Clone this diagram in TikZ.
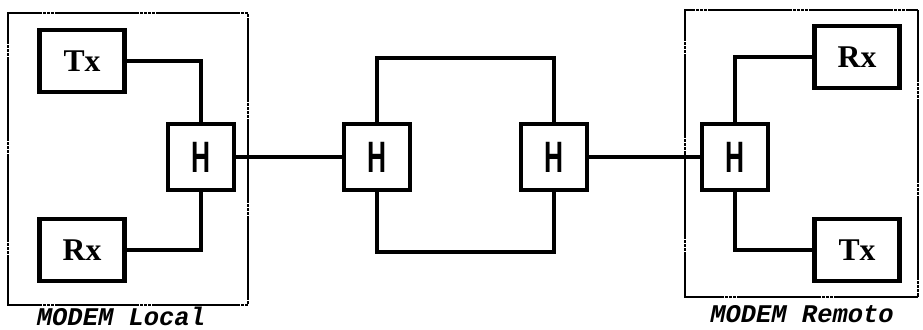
\documentclass[tikz,border=0pt]{standalone}
\usepackage{fontspec}
\usepackage{graphicx}
\setmainfont{Liberation Serif}
\setsansfont{Liberation Sans}
\setmonofont{Liberation Mono}
\usetikzlibrary{positioning}
\tikzset{
    every picture/.style={line cap=rect,line join=miter},
    unitbox/.style={draw=black,fill=white,line width=2.4pt,
      minimum width=1.7cm,minimum height=1.24cm,inner sep=0pt,
      font=\fontsize{18}{20}\selectfont\bfseries},
    hybrid/.style={draw=black,fill=white,line width=2.4pt,
      minimum width=1.32cm,minimum height=1.32cm,inner sep=0pt,
      font=\fontsize{25}{27}\selectfont\sffamily\bfseries},
    wire/.style={draw=black,line width=2pt},
    modemframe/.style={draw=black,line width=0.9pt,dash pattern=on 1.3pt off 1pt},
    modemlabel/.style={font=\fontsize{14.5}{16}\selectfont\ttfamily\bfseries\itshape,inner sep=0pt}
}

\begin{document}
\begin{tikzpicture}[x=0.02cm,y=-0.02cm]
  \useasboundingbox (0,0) rectangle (923,330);
  % local modem
  \draw[modemframe] (8,13) rectangle (248,305);
  \node[unitbox] (txL) at (82,61) {Tx};
  \node[unitbox] (rxL) at (82,250) {Rx};
  \node[hybrid] (hL) at (201,157) {\scalebox{0.6}[1]{H}};
  \node[modemlabel] (lblL) at (121,316) {MODEM Local};
  \draw[wire] (txL.east) -| (hL.north);
  \draw[wire] (rxL.east) -| (hL.south);
  % line with its two hybrids
  \node[hybrid] (hA) at (377,157) {\scalebox{0.6}[1]{H}};
  \node[hybrid] (hB) at (554,157) {\scalebox{0.6}[1]{H}};
  \coordinate (looptop) at (466,58);
  \coordinate (loopbot) at (466,252);
  \draw[wire] (hL.east) -- (hA.west);
  \draw[wire] (hA.north) |- (looptop) -| (hB.north);
  \draw[wire] (hA.south) |- (loopbot) -| (hB.south);
  % remote modem
  \draw[modemframe] (685,10) rectangle (918,297);
  \node[hybrid] (hR) at (735,157) {\scalebox{0.6}[1]{H}};
  \node[unitbox] (rxR) at (857,57) {Rx};
  \node[unitbox] (txR) at (857,250) {Tx};
  \node[modemlabel] (lblR) at (802,314) {MODEM Remoto};
  \draw[wire] (hB.east) -- (hR.west);
  \draw[wire] (hR.north) |- (rxR.west);
  \draw[wire] (hR.south) |- (txR.west);
\end{tikzpicture}
\end{document}
